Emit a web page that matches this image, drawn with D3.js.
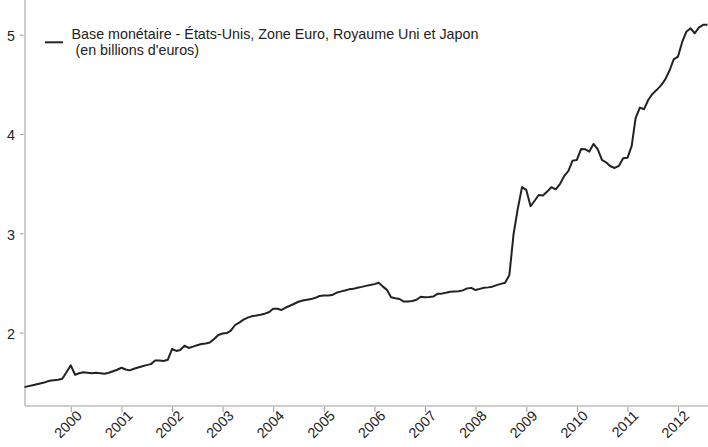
<!DOCTYPE html>
<html>
<head>
<meta charset="utf-8">
<script src="https://cdn.jsdelivr.net/npm/d3@7"></script>
<style>
  html, body { margin: 0; padding: 0; background: #fff; }
  svg { display: block; }
  text { font-family: "Liberation Sans", Arial, sans-serif; fill: #222; }
</style>
</head>
<body>
<svg id="chart" width="708" height="447"></svg>
<script>
// Monthly values, Feb 1999 – Aug 2012 (trillions of euros)
const startYear = 1999, startMonth = 1; // Feb (0-based month index)
const values = [
  // 1999 Feb–Dec
  1.45, 1.46, 1.47, 1.48, 1.49, 1.50, 1.515, 1.52, 1.525, 1.535, 1.60,
  // 2000
  1.67, 1.575, 1.59, 1.60, 1.595, 1.59, 1.595, 1.59, 1.585, 1.595, 1.61, 1.625,
  // 2001
  1.645, 1.628, 1.619, 1.635, 1.648, 1.66, 1.672, 1.682, 1.718, 1.718, 1.714, 1.725,
  // 2002
  1.834, 1.815, 1.825, 1.867, 1.845, 1.858, 1.872, 1.885, 1.89, 1.90, 1.935, 1.975,
  // 2003
  1.99, 1.995, 2.02, 2.076, 2.10, 2.13, 2.15, 2.165, 2.172, 2.18, 2.19, 2.205,
  // 2004
  2.24, 2.24, 2.227, 2.252, 2.27, 2.29, 2.31, 2.322, 2.33, 2.337, 2.35, 2.368,
  // 2005
  2.372, 2.373, 2.378, 2.40, 2.412, 2.423, 2.435, 2.44, 2.452, 2.46, 2.47, 2.478,
  // 2006
  2.488, 2.502, 2.465, 2.43, 2.355, 2.345, 2.338, 2.312, 2.312, 2.318, 2.33, 2.36,
  // 2007
  2.355, 2.357, 2.362, 2.39, 2.392, 2.40, 2.411, 2.413, 2.415, 2.425, 2.445, 2.45,
  // 2008
  2.428, 2.44, 2.452, 2.455, 2.462, 2.478, 2.49, 2.502, 2.58, 2.99, 3.25, 3.465,
  // 2009
  3.437, 3.272, 3.325, 3.386, 3.38, 3.42, 3.464, 3.443, 3.495, 3.575, 3.628, 3.732,
  // 2010
  3.739, 3.85, 3.847, 3.823, 3.90, 3.845, 3.74, 3.713, 3.675, 3.658, 3.68, 3.755,
  // 2011
  3.76, 3.88, 4.16, 4.266, 4.25, 4.345, 4.404, 4.445, 4.49, 4.55, 4.64, 4.752,
  // 2012 Jan–Aug
  4.78, 4.93, 5.03, 5.065, 5.015, 5.075, 5.10, 5.10
];
const yTicks = [2, 3, 4, 5];
const xTickYears = [2000, 2001, 2002, 2003, 2004, 2005, 2006, 2007, 2008, 2009, 2010, 2011, 2012];
const legendLines = ["Base monétaire - États-Unis, Zone Euro, Royaume Uni et Japon", " (en billions d'euros)"];

const data = values.map((v, i) => ({ date: new Date(startYear, startMonth + i, 1), v }));

const svg = d3.select("#chart");
const x = d3.scaleTime()
  .domain([data[0].date, data[data.length - 1].date])
  .range([24.5, 707.5]);
const y = d3.scaleLinear().domain([1.26, 5.35]).range([406, 0]);

const axisColor = "#bdbdbd";
const fontSize = 14.3;

// Y axis
const yAxis = svg.append("g").attr("transform", "translate(25,0)")
  .call(d3.axisLeft(y).tickValues(yTicks).tickFormat(d3.format("d")).tickSize(4).tickPadding(6));
yAxis.select(".domain").remove();
yAxis.selectAll(".tick line").attr("stroke", "#999").attr("x1", -5).attr("x2", -1.5);
yAxis.selectAll(".tick text").attr("font-size", fontSize).attr("fill", "#222")
  .attr("font-family", "Liberation Sans, Arial, sans-serif").attr("dy", "0.4em");
svg.append("line").attr("x1", 25).attr("x2", 25).attr("y1", 0).attr("y2", 406)
  .attr("stroke", axisColor).attr("stroke-width", 1.5);

// X axis
const xAxis = svg.append("g").attr("transform", "translate(0,406)")
  .call(d3.axisBottom(x).tickValues(xTickYears.map(yr => new Date(yr, 0, 1)))
    .tickFormat(d3.timeFormat("%Y")).tickSize(6));
xAxis.select(".domain").remove();
xAxis.selectAll(".tick line").attr("stroke", "#999").attr("y1", 1);
xAxis.selectAll(".tick text")
  .attr("font-size", fontSize).attr("fill", "#222")
  .attr("font-family", "Liberation Sans, Arial, sans-serif")
  .attr("text-anchor", "end")
  .attr("transform", "translate(8,7) rotate(-45)")
  .attr("y", 0).attr("dy", "0.35em").attr("x", 0);
svg.append("line").attr("x1", 25).attr("x2", 708).attr("y1", 406).attr("y2", 406)
  .attr("stroke", axisColor).attr("stroke-width", 1.5);

// Line
svg.append("path").datum(data)
  .attr("fill", "none").attr("stroke", "#222").attr("stroke-width", 2)
  .attr("stroke-linejoin", "round")
  .attr("d", d3.line().x(d => x(d.date)).y(d => y(d.v)));

// Legend
svg.append("line").attr("x1", 45).attr("x2", 63).attr("y1", 42.3).attr("y2", 42.3)
  .attr("stroke", "#222").attr("stroke-width", 2);
const legendText = svg.append("text").attr("font-size", fontSize)
  .attr("xml:space", "preserve").style("white-space", "pre");
legendText.append("tspan").attr("x", 71.5).attr("y", 39).text(legendLines[0]);
legendText.append("tspan").attr("x", 71.5).attr("y", 55.2).text(legendLines[1]);
</script>
</body>
</html>
